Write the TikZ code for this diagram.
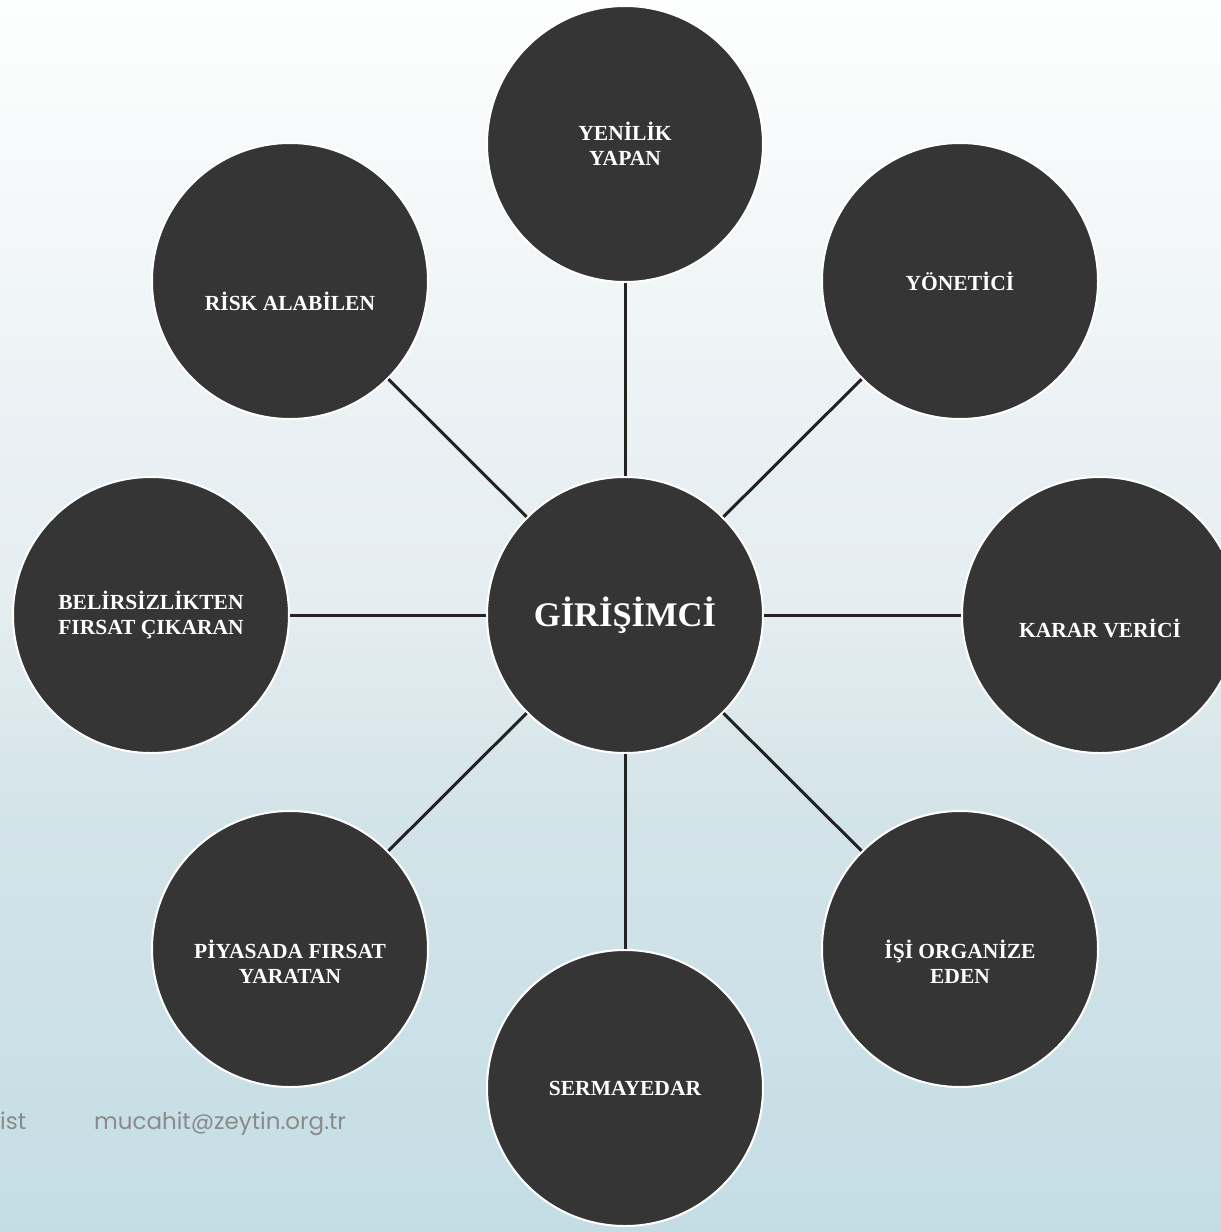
\documentclass[tikz,border=0pt]{standalone}
\usepackage{fontspec}
\setmainfont{Liberation Serif}
\newfontfamily\rodapefont{Poppins}

\definecolor{fundoA}{RGB}{196,221,229}
\definecolor{fundoB}{RGB}{212,228,233}
\definecolor{fundoC}{RGB}{228,237,240}
\definecolor{fundoD}{RGB}{232,240,243}
\definecolor{fundoE}{RGB}{245,248,249}
\definecolor{fundoF}{RGB}{253,254,254}
\definecolor{bolha}{RGB}{53,53,53}
\definecolor{haste}{RGB}{34,34,34}
\definecolor{rodape}{RGB}{138,138,138}
% a caixa do caminho vai de 25bp a 75bp
\pgfdeclareverticalshading{fundo}{100bp}{color(0bp)=(fundoA); color(25bp)=(fundoA);
  color(42.5bp)=(fundoB); color(50bp)=(fundoC); color(55.9bp)=(fundoD);
  color(66.9bp)=(fundoE); color(75bp)=(fundoF); color(100bp)=(fundoF)}

\begin{document}
\begin{tikzpicture}[x=1pt,y=-1pt,
  bubble/.style={circle, fill=bolha, draw=white, line width=2pt,
    minimum size=276pt, inner sep=0pt, text=white, align=center,
    font=\bfseries\fontsize{21.5}{25}\selectfont},
  bubbletext/.style={text=white, align=center, inner sep=0pt,
    font=\bfseries\fontsize{21.5}{25}\selectfont},
  spoke/.style={draw=haste, line width=3pt},
  footer/.style={text=rodape, anchor=base west, inner sep=0pt,
    font=\rodapefont\fontsize{23}{26}\selectfont}]

  % fundo degradê
  \shade[shading=fundo] (0,0) rectangle (1221,1232);
  \useasboundingbox (0,0) rectangle (1221,1232);

  % rodapé
  \node[footer] (ist) at (0,1129) {ist};
  \node[footer] (mail) at (94,1129) {mucahit@zeytin.org.tr};

  % círculo central
  \node[bubble, font=\bfseries\fontsize{34.5}{38}\selectfont] (giri) at (625,615) {GİRİŞİMCİ};

  % círculos em volta
  \node[bubble] (yeni) at (625,144) {YENİLİK\\YAPAN};
  \node[bubble] (yone) at (960,281) {YÖNETİCİ};
  \node[bubble, label={[bubbletext,yshift=-13pt]center:KARAR VERİCİ}] (kara) at (1100,615) {};
  \node[bubble, label={[bubbletext,yshift=-13pt]center:İŞİ ORGANİZE\\EDEN}] (isi) at (960,949) {};
  \node[bubble] (serm) at (625,1088) {SERMAYEDAR};
  \node[bubble, label={[bubbletext,yshift=-13pt]center:PİYASADA FIRSAT\\YARATAN}] (piya) at (290,949) {};
  \node[bubble] (beli) at (151,615) {BELİRSİZLİKTEN\\FIRSAT ÇIKARAN};
  \node[bubble, label={[bubbletext,yshift=-20pt]center:RİSK ALABİLEN}] (risk) at (290,281) {};

  % hastes ligando ao centro
  \foreach \n in {yeni,yone,kara,isi,serm,piya,beli,risk} {
    \draw[spoke] (giri) -- (\n);
  }
\end{tikzpicture}
\end{document}
